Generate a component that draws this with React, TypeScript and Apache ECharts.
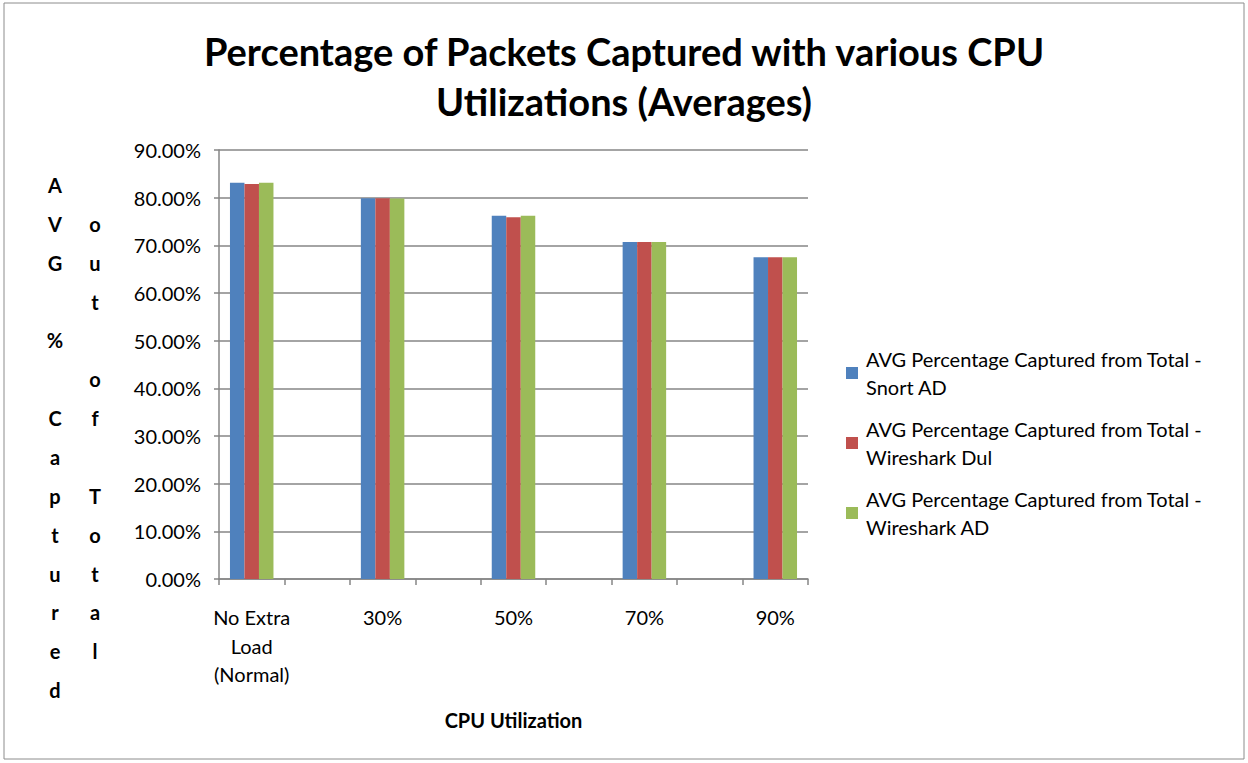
import React, { useEffect, useRef } from "react";
import * as echarts from "echarts";

const categories = ["No Extra\nLoad\n(Normal)", "", "30%", "", "50%", "", "70%", "", "90%"];
const snortAD = [83.15, null, 79.9, null, 76.2, null, 70.7, null, 67.5];
const wiresharkDul = [82.86, null, 79.9, null, 75.87, null, 70.7, null, 67.5];
const wiresharkAD = [83.15, null, 79.8, null, 76.2, null, 70.7, null, 67.5];
const seriesNames = [
  "AVG Percentage Captured from Total -\nSnort AD",
  "AVG Percentage Captured from Total -\nWireshark Dul",
  "AVG Percentage Captured from Total -\nWireshark AD",
];
const colors = ["#4F81BD", "#C0504D", "#9BBB59"];
const yTitleCol1 = ["A", "V", "G", " ", "%", " ", "C", "a", "p", "t", "u", "r", "e", "d"];
const yTitleCol2 = ["o", "u", "t", " ", "o", "f", " ", "T", "o", "t", "a", "l"];

const FONT = "Lato, 'Open Sans', sans-serif";

export default function App() {
  const ref = useRef<HTMLDivElement>(null);
  useEffect(() => {
    if (!ref.current) return;
    const chart = echarts.init(ref.current, null, { renderer: "svg" });
    const data = [snortAD, wiresharkDul, wiresharkAD];
    chart.setOption({
      animation: false,
      backgroundColor: "#ffffff",
      color: colors,
      title: {
        text: "Percentage of Packets Captured with various CPU\nUtilizations (Averages)",
        left: "center",
        top: 21,
        textStyle: {
          fontFamily: FONT,
          fontWeight: "bold",
          fontSize: 38,
          lineHeight: 50,
          color: "#000",
        },
      },
      legend: {
        orient: "vertical",
        left: 846,
        top: 331,
        padding: 0,
        itemWidth: 12,
        itemHeight: 12,
        itemGap: -14,
        icon: "rect",
        data: seriesNames,
        textStyle: {
          fontFamily: FONT,
          fontSize: 20,
          lineHeight: 28,
          color: "#000",
          padding: [28, 0, 0, 3],
        },
      },
      grid: { left: 219, right: 440, top: 150, bottom: 184 },
      xAxis: {
        type: "category",
        data: categories,
        name: "CPU Utilization",
        nameLocation: "middle",
        nameGap: 131,
        nameTextStyle: { fontFamily: FONT, fontWeight: "bold", fontSize: 20, color: "#000" },
        axisLine: { lineStyle: { color: "#868686", width: 1.5 } },
        axisTick: { show: true, interval: 0, length: 6, lineStyle: { color: "#868686", width: 1.5 } },
        axisLabel: {
          interval: 0,
          margin: 24,
          fontFamily: FONT,
          fontSize: 20,
          lineHeight: 28.5,
          color: "#000",
        },
      },
      yAxis: {
        type: "value",
        min: 0,
        max: 90,
        interval: 10,
        axisLine: { show: true, lineStyle: { color: "#868686", width: 1.5 } },
        axisTick: { show: true, length: 5, lineStyle: { color: "#868686", width: 1.5 } },
        splitLine: { lineStyle: { color: "#868686", width: 1.5 } },
        axisLabel: {
          margin: 18,
          fontFamily: FONT,
          fontSize: 20,
          color: "#000",
          formatter: (v: number) => v.toFixed(2) + "%",
        },
      },
      series: seriesNames.map((name, i) => ({
        name,
        type: "bar",
        data: data[i],
        barWidth: 14.5,
        barGap: "0%",
        itemStyle: { color: colors[i] },
      })),
      graphic: [
        {
          type: "rect",
          shape: { x: 4, y: 3, width: 1240, height: 756 },
          style: { fill: "none", stroke: "#8c8c8c", lineWidth: 1 },
          silent: true,
        },
        {
          type: "text",
          x: 55,
          y: 185 - 19.4,
          style: {
            text: yTitleCol1.join("\n"),
            fontFamily: FONT,
            fontWeight: "bold",
            fontSize: 20,
            lineHeight: 38.85,
            align: "center",
            verticalAlign: "top",
            fill: "#000",
          },
        },
        {
          type: "text",
          x: 95,
          y: 185 + 38.85 - 19.4,
          style: {
            text: yTitleCol2.join("\n"),
            fontFamily: FONT,
            fontWeight: "bold",
            fontSize: 20,
            lineHeight: 38.85,
            align: "center",
            verticalAlign: "top",
            fill: "#000",
          },
        },
      ],
    });
    return () => chart.dispose();
  }, []);
  return (
    <div
      ref={ref}
      style={{ position: "fixed", left: 0, top: 0, width: 1248, height: 763 }}
    />
  );
}
